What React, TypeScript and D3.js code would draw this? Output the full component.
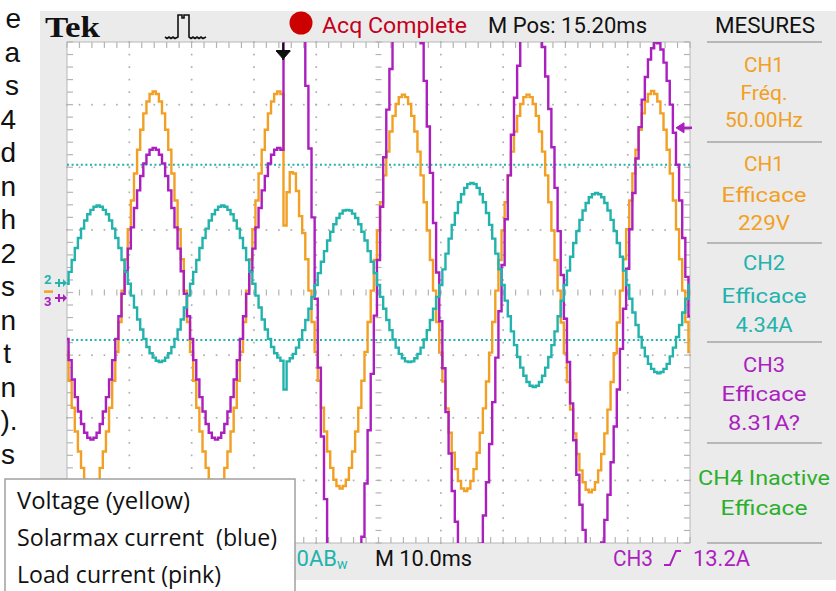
import React from "react";
import * as d3 from "d3";

// ---------- data ----------
// sample times in ms, every 0.5 ms across the 10 div x 10 ms/div screen
const SAMPLE_MS: number[] = d3.range(0, 100.001, 0.5);

// CH1 voltage (yellow), in screen divisions from centre
const CH1_VOLTAGE_DIV = [
  -0.95, -1.41, -1.84, -2.22, -2.54, -2.80, -2.99, -3.11, -3.15, -3.11, -2.99, -2.80, -2.54, -2.22, -1.84, -1.41, -0.95, -0.47,
  0.03, 0.53, 1.01, 1.47, 1.90, 2.28, 2.60, 2.86, 3.05, 3.17, 3.21, 3.17, 3.05, 2.86, 2.60, 2.28, 1.90, 1.47, 1.01, 0.53,
  0.03, -0.47, -0.95, -1.41, -1.84, -2.22, -2.54, -2.80, -2.99, -3.11, -3.15, -3.11, -2.99, -2.80, -2.54, -2.22, -1.84, -1.41, -0.95, -0.47,
  0.03, 0.53, 1.01, 1.47, 1.90, 2.28, 2.60, 2.86, 3.05, 3.17, 3.21, 3.17, 1.07, 1.60, 1.92, 1.90, 1.62, 1.22, 0.95, 0.53,
  0.03, -0.47, -0.95, -1.41, -1.84, -2.22, -2.54, -2.80, -2.99, -3.09, -3.13, -3.09, -2.99, -2.80, -2.54, -2.22, -1.84, -1.41, -0.95, -0.47,
  0.03, 0.52, 0.99, 1.44, 1.87, 2.25, 2.57, 2.82, 3.01, 3.12, 3.16, 3.12, 3.01, 2.82, 2.57, 2.25, 1.87, 1.44, 0.99, 0.52,
  0.03, -0.47, -0.96, -1.42, -1.85, -2.24, -2.56, -2.82, -3.01, -3.13, -3.17, -3.13, -3.01, -2.82, -2.56, -2.24, -1.85, -1.42, -0.96, -0.47,
  0.03, 0.52, 0.99, 1.44, 1.87, 2.25, 2.57, 2.82, 3.01, 3.12, 3.16, 3.12, 3.01, 2.82, 2.57, 2.25, 1.87, 1.44, 0.99, 0.52,
  0.03, -0.48, -0.97, -1.43, -1.87, -2.25, -2.58, -2.84, -3.03, -3.15, -3.19, -3.15, -3.03, -2.84, -2.58, -2.25, -1.87, -1.43, -0.97, -0.48,
  0.03, 0.53, 1.01, 1.47, 1.90, 2.28, 2.60, 2.86, 3.05, 3.17, 3.22, 3.17, 3.05, 2.86, 2.60, 2.28, 1.90, 1.47, 1.01, 0.53,
  0.03, -0.47, -0.95,
];

// CH2 Solarmax current (blue), in divisions
const CH2_SOLARMAX_DIV = [
  0.14, 0.33, 0.52, 0.71, 0.87, 1.02, 1.15, 1.25, 1.32, 1.37, 1.39, 1.37, 1.32, 1.25, 1.15, 1.02, 0.87, 0.71, 0.52, 0.33,
  0.14, -0.05, -0.24, -0.43, -0.59, -0.74, -0.87, -0.97, -1.04, -1.09, -1.11, -1.09, -1.04, -0.97, -0.87, -0.74, -0.59, -0.43, -0.24, -0.05,
  0.14, 0.33, 0.52, 0.71, 0.87, 1.02, 1.15, 1.25, 1.32, 1.37, 1.39, 1.37, 1.32, 1.25, 1.15, 1.02, 0.87, 0.71, 0.52, 0.33,
  0.14, -0.05, -0.24, -0.43, -0.59, -0.74, -0.87, -0.97, -1.04, -1.09,
  -1.55,
  -1.10, -1.05, -0.98, -0.88, -0.75, -0.60, -0.44, -0.26, -0.07,
  0.12, 0.31, 0.49, 0.66, 0.83, 0.97, 1.09, 1.19, 1.26, 1.31, 1.32, 1.31, 1.26, 1.19, 1.09, 0.97, 0.83, 0.66, 0.49, 0.31,
  0.12, -0.07, -0.26, -0.44, -0.60, -0.75, -0.88, -0.98, -1.05, -1.10, -1.11, -1.10, -1.05, -0.98, -0.88, -0.75, -0.60, -0.44, -0.26, -0.07,
  0.12, 0.37, 0.62, 0.86, 1.08, 1.27, 1.44, 1.57, 1.67, 1.73, 1.75, 1.73, 1.67, 1.57, 1.44, 1.27, 1.08, 0.86, 0.62, 0.37,
  0.12, -0.13, -0.38, -0.62, -0.84, -1.03, -1.20, -1.33, -1.43, -1.49, -1.51, -1.49, -1.43, -1.33, -1.20, -1.03, -0.84, -0.62, -0.38, -0.13,
  0.12, 0.35, 0.57, 0.79, 0.98, 1.16, 1.31, 1.43, 1.52, 1.57, 1.59, 1.57, 1.52, 1.43, 1.31, 1.16, 0.98, 0.79, 0.57, 0.35,
  0.12, -0.10, -0.32, -0.52, -0.71, -0.88, -1.02, -1.14, -1.22, -1.27, -1.29, -1.27, -1.22, -1.14, -1.02, -0.88, -0.71, -0.52, -0.32, -0.10,
  0.12,
];

// CH3 load current (pink), in divisions (values beyond +-4 are off screen)
const CH3_LOAD_DIV = [
  -0.74, -1.08, -1.39, -1.67, -1.90, -2.10, -2.24, -2.32, -2.35, -2.32, -2.24, -2.10, -1.90, -1.67, -1.39, -1.08, -0.74, -0.38,
  -0.02, 0.34, 0.70, 1.04, 1.35, 1.63, 1.86, 2.06, 2.20, 2.28, 2.31, 2.28, 2.20, 2.06, 1.86, 1.63, 1.35, 1.04, 0.70, 0.34,
  -0.02, -0.38, -0.74, -1.08, -1.39, -1.67, -1.90, -2.10, -2.24, -2.32, -2.35, -2.32, -2.24, -2.10, -1.90, -1.67, -1.39, -1.08, -0.74, -0.38,
  -0.02, 0.34, 0.70, 1.04, 1.35, 1.63, 1.86, 2.06, 2.20, 2.28, 2.31, 2.28,
  6.6, 7.0, 6.9, 6.5, 5.9, 5.1, 4.2, 3.3, 2.3, 1.2, -0.1, -1.2, -2.3, -3.3, -4.1,
  -4.77, -5.34, -5.77, -6.05, -6.19, -6.18, -6.00, -5.70, -5.20, -4.60, -3.90, -3.05, -2.20, -1.30, -0.37,
  0.52, 1.37, 2.16, 2.92, 3.57, 4.16, 4.65, 5.02, 5.27, 5.39, 5.38, 5.23, 4.91, 4.47, 3.98, 3.38, 2.65, 1.91, 1.11, 0.32,
  -0.46, -1.21, -1.91, -2.57, -3.17, -3.66, -4.09, -4.42, -4.64, -4.74, -4.73, -4.60, -4.36, -4.01, -3.56, -3.03, -2.42, -1.75, -1.04, -0.30,
  0.44, 1.17, 1.87, 2.52, 3.11, 3.62, 4.05, 4.37, 4.59, 4.69, 4.68, 4.55, 4.27, 3.92, 3.45, 2.93, 2.32, 1.67, 0.98, 0.28,
  -0.42, -1.11, -1.77, -2.36, -2.91, -3.39, -3.79, -4.09, -4.29, -4.39, -4.38, -4.26, -3.99, -3.63, -3.23, -2.71, -2.14, -1.55, -0.90, -0.26,
  0.38, 1.01, 1.59, 2.14, 2.64, 3.08, 3.44, 3.72, 3.90, 3.99, 3.98, 3.88, 3.67, 3.38, 3.00, 2.55, 2.04, 1.47, 0.87, 0.25,
  -0.38,
];

const TRIGGER_MS = 34.7;
const TRIGGER_LEVEL_DIV = 2.63;
const CURSOR_LEVELS_DIV = [2.04, -0.76];
const GROUND_DIV = { ch1: 0.03, ch2: 0.15, ch3: -0.04 };

const HEADER = { brand: "Tek", status: "Acq Complete", mpos: "M Pos: 15.20ms", panel: "MESURES" };
const FOOTER = { ch2: "0AB", timebase: "M 10.0ms", trig: "CH3", trigLevel: "13.2A" };

const MEASURE_LINES = [
  ["CH1", "Fréq.", "50.00Hz"],
  ["CH1", "Efficace", "229V"],
  ["CH2", "Efficace", "4.34A"],
  ["CH3", "Efficace", "8.31A?"],
  ["CH4 Inactive", "Efficace"],
];

const LEGEND_LINES = ["Voltage (yellow)", "Solarmax current  (blue)", "Load current (pink)"];
const SIDE_FRAGMENTS = ["e", "a", "s", "4", "d", "n", "h", "2", "s", "n", "t", "n", ").", "s"];

// ---------- layout / style ----------
const W = 836, H = 591;
const PL = 67, PR = 690, PT = 42, PB = 543;
const ORANGE = "#f2a024";
const CYAN = "#22b3ad";
const MAGENTA = "#ab1fbf";
const GREEN = "#2cb02c";
const PANEL = "#ebebeb";
const SCOPE_FONT = "Roboto, 'DejaVu Sans', sans-serif";

const MEASURE_COLORS = [ORANGE, ORANGE, CYAN, MAGENTA, GREEN];
const MEASURE_BASE = [[72, 100, 127], [171, 202, 230], [270, 303, 332], [372, 401, 430], [485, 515]];
const MEASURE_W = [[40, 47, 78], [40, 85, 52], [42, 85, 57], [42, 85, 72], [132, 87]];
const SEPARATORS = [42, 142, 243, 342, 443, 543];
const SIDE_END = [21, 20, 19, 16, 16, 16, 16, 16, 15, 16, 11, 16, 17.5, 15];
const LEGEND_W = [173, 260, 204];

export default function App() {
  const x = d3.scaleLinear().domain([0, 100]).range([PL, PR]);
  const y = d3.scaleLinear().domain([-4, 4]).range([PB, PT]);

  const line = d3
    .line<number>()
    .x((_, i) => x(SAMPLE_MS[i]))
    .y((d) => y(d))
    .curve(d3.curveStep);

  const minorX = d3.range(0, 100.001, 2);
  const minorY = d3.range(-4, 4.001, 0.2);
  const majorX = d3.range(10, 91, 10).filter((v) => v !== 50);
  const majorY = d3.range(-3, 3.5, 1).filter((v) => v !== 0);

  const dots: React.ReactElement[] = [];
  majorX.forEach((mx) =>
    minorY.forEach((my, k) =>
      dots.push(<rect key={`vx${mx}-${k}`} x={x(mx) - 0.8} y={y(my) - 0.8} width={1.7} height={1.7} fill="#afafaf" />)
    )
  );
  majorY.forEach((my) =>
    minorX.forEach((mx, k) =>
      dots.push(<rect key={`hy${my}-${k}`} x={x(mx) - 0.8} y={y(my) - 0.8} width={1.7} height={1.7} fill="#afafaf" />)
    )
  );

  const ticks: React.ReactElement[] = [];
  minorX.forEach((mx, k) => {
    const px = x(mx);
    ticks.push(<line key={`t${k}`} x1={px} x2={px} y1={PT} y2={PT + 6} />);
    ticks.push(<line key={`b${k}`} x1={px} x2={px} y1={PB - 6} y2={PB} />);
    ticks.push(<line key={`c${k}`} x1={px} x2={px} y1={y(0) - 3} y2={y(0) + 3} />);
  });
  minorY.forEach((my, k) => {
    const py = y(my);
    ticks.push(<line key={`l${k}`} x1={PL} x2={PL + 6} y1={py} y2={py} />);
    ticks.push(<line key={`r${k}`} x1={PR - 6} x2={PR} y1={py} y2={py} />);
    ticks.push(<line key={`m${k}`} x1={x(50) - 3} x2={x(50) + 3} y1={py} y2={py} />);
  });

  const trigX = x(TRIGGER_MS);
  const trigLevelY = y(TRIGGER_LEVEL_DIV);
  const g1 = y(GROUND_DIV.ch1), g2 = y(GROUND_DIV.ch2), g3 = y(GROUND_DIV.ch3);

  return (
    <svg width={W} height={H} style={{ position: "absolute", left: 0, top: 0, background: "#fff" }}>
      <defs>
        <clipPath id="plotClip">
          <rect x={PL} y={PT} width={PR - PL} height={PB - PT} />
        </clipPath>
      </defs>

      {/* cropped neighbouring paragraph */}
      <g fontFamily="'Liberation Sans', Arial, sans-serif" fontSize={28} fill="#111" textAnchor="end">
        {SIDE_FRAGMENTS.map((s, i) => (
          <text key={i} x={SIDE_END[i]} y={28 + 33.5 * i}>{s}</text>
        ))}
      </g>

      {/* scope screen background */}
      <rect x={40} y={11} width={W - 40} height={569} fill={PANEL} />
      <rect x={PL} y={PT} width={PR - PL} height={PB - PT} fill="#fff" stroke="#b8b8b8" strokeWidth={1} />

      {/* graticule */}
      <g>{dots}</g>
      <g stroke="#b4b4b4" strokeWidth={1.2}>{ticks}</g>

      {/* cursors */}
      {CURSOR_LEVELS_DIV.map((c, i) => (
        <line key={i} x1={PL} x2={PR} y1={y(c)} y2={y(c)} stroke={CYAN} strokeWidth={2} strokeDasharray="2 2.6" />
      ))}

      {/* traces */}
      <g clipPath="url(#plotClip)" fill="none" strokeWidth={2.4} strokeLinejoin="miter">
        <path d={line(CH1_VOLTAGE_DIV) || ""} stroke={ORANGE} />
        <path d={line(CH3_LOAD_DIV) || ""} stroke={MAGENTA} />
        <path d={line(CH2_SOLARMAX_DIV) || ""} stroke={CYAN} />
      </g>

      {/* trigger position marker */}
      <g fill="#111" stroke="#111">
        <line x1={trigX} x2={trigX} y1={PT + 1} y2={PT + 18} strokeWidth={2} />
        <line x1={trigX - 7} x2={trigX + 7} y1={PT + 9} y2={PT + 9} strokeWidth={2} />
        <path d={`M${trigX - 7},${PT + 9} L${trigX + 7},${PT + 9} L${trigX},${PT + 17} Z`} />
      </g>

      {/* trigger level marker (right) */}
      <g fill={MAGENTA} stroke={MAGENTA}>
        <path d={`M${PR - 14},${trigLevelY} L${PR - 6},${trigLevelY - 5} L${PR - 6},${trigLevelY + 5} Z`} />
        <line x1={PR - 8} x2={PR + 2} y1={trigLevelY} y2={trigLevelY} strokeWidth={2.5} />
      </g>

      {/* channel ground markers */}
      <g fontFamily={SCOPE_FONT} fontSize={13} fontWeight={700}>
        <text x={44} y={g2 + 1} fill={CYAN}>2</text>
        <text x={44} y={g3 + 11} fill={MAGENTA}>3</text>
      </g>
      <path d={`M44,${g1 + 1} H53`} stroke={ORANGE} strokeWidth={2.5} />
      <g strokeWidth={2}>
        <path d={`M55,${g2} H63 M59,${g2 - 4} V${g2 + 4}`} stroke={CYAN} />
        <path d={`M63,${g2 - 4} L67,${g2} L63,${g2 + 4} Z`} fill={CYAN} stroke="none" />
        <path d={`M55,${g3 + 3} H63 M59,${g3 - 1} V${g3 + 7}`} stroke={MAGENTA} />
        <path d={`M63,${g3 - 1} L67,${g3 + 3} L63,${g3 + 7} Z`} fill={MAGENTA} stroke="none" />
      </g>

      {/* header */}
      <text x={45} y={37} fontFamily="'Liberation Serif', 'DejaVu Serif', serif" fontWeight={700} fontSize={30}
        textLength={55} lengthAdjust="spacingAndGlyphs" fill="#111">{HEADER.brand}</text>
      <path
        d="M165,37 l2,1.5 l2,-1.5 l2,1.5 l2,-1.5 l2,1.5 L178,37 V15 H182 V18 H184 V15 H189 V37 l2,1.5 l2,-1.5 l2,1.5 l2,-1.5 l2,1.5 l2,-1.5 l2,1.5 L206,37"
        fill="none" stroke="#111" strokeWidth={1.6} />
      <circle cx={301} cy={23} r={11.5} fill="#cc0000" />
      <g fontFamily={SCOPE_FONT} fontSize={22}>
        <text x={322} y={33} fill="#c4001c" textLength={145} lengthAdjust="spacingAndGlyphs">{HEADER.status}</text>
        <text x={488} y={33} fill="#111" textLength={159} lengthAdjust="spacingAndGlyphs">{HEADER.mpos}</text>
        <text x={765} y={33} fill="#111" textAnchor="middle" textLength={100} lengthAdjust="spacingAndGlyphs">{HEADER.panel}</text>
      </g>

      {/* measurement panel */}
      {SEPARATORS.map((sy, i) => (
        <line key={i} x1={707} x2={822} y1={sy} y2={sy} stroke="#a6a6a6" strokeWidth={1.5} />
      ))}
      <g fontFamily={SCOPE_FONT} fontSize={21} textAnchor="middle">
        {MEASURE_LINES.map((sec, si) =>
          sec.map((txt, li) => (
            <text key={`${si}-${li}`} x={764} y={MEASURE_BASE[si][li]} fill={MEASURE_COLORS[si]}
              textLength={MEASURE_W[si][li]} lengthAdjust="spacingAndGlyphs">{txt}</text>
          ))
        )}
      </g>

      {/* footer */}
      <g fontFamily={SCOPE_FONT} fontSize={22}>
        <text x={337} y={566} fill={CYAN} textAnchor="end">{FOOTER.ch2}</text>
        <text x={337} y={569} fill={CYAN} fontSize={14}>w</text>
        <text x={375} y={566} fill="#111" textLength={97} lengthAdjust="spacingAndGlyphs">{FOOTER.timebase}</text>
        <text x={613} y={566} fill={MAGENTA} textLength={40} lengthAdjust="spacingAndGlyphs">{FOOTER.trig}</text>
        <path d="M664,565 H670 L676,551 H681" fill="none" stroke={MAGENTA} strokeWidth={2} />
        <text x={693} y={566} fill={MAGENTA} textLength={57} lengthAdjust="spacingAndGlyphs">{FOOTER.trigLevel}</text>
      </g>

      {/* slide legend box */}
      <rect x={5} y={479} width={290} height={130} fill="#fff" stroke="#a0a0a0" strokeWidth={1.5} />
      <g fontFamily="'Open Sans', Lato, sans-serif" fontSize={23} fill="#111" style={{ whiteSpace: "pre" }}>
        {LEGEND_LINES.map((t, i) => (
          <text key={i} x={17} y={509 + 37 * i} xmlSpace="preserve" textLength={LEGEND_W[i]} lengthAdjust="spacingAndGlyphs">{t}</text>
        ))}
      </g>
    </svg>
  );
}
